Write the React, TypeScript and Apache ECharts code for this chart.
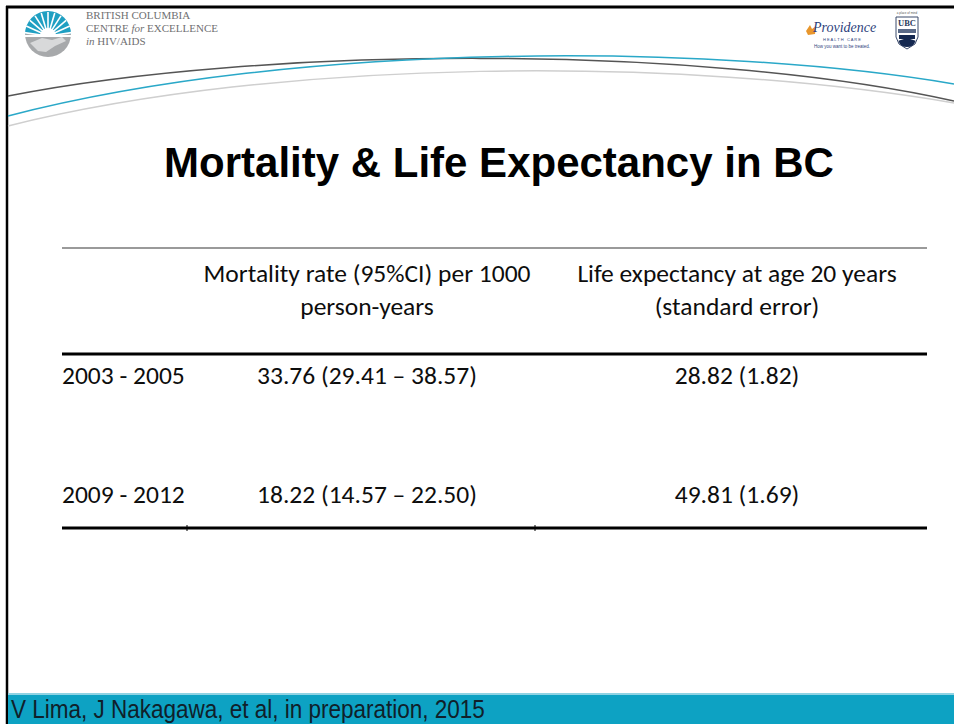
import React, { useEffect, useRef } from "react";
import * as echarts from "echarts";

// ---- content ----
const slideTitle = "Mortality & Life Expectancy in BC";
const headerMortality = ["Mortality rate (95%CI) per 1000", "person-years"];
const headerLife = ["Life expectancy at age 20 years", "(standard error)"];
const periods = ["2003 - 2005", "2009 - 2012"];
const mortalityRates = ["33.76 (29.41 – 38.57)", "18.22 (14.57 – 22.50)"];
const lifeExpectancy = ["28.82 (1.82)", "49.81 (1.69)"];
const citation = "V Lima, J Nakagawa, et al, in preparation, 2015";

const W = 954;
const H = 724;
const TABLE_FONT = "Carlito, Lato, 'Open Sans', sans-serif";
const TITLE_FONT = "'Liberation Sans', Arial, sans-serif";
const TABLE_SIZE = 25.5;

function buildGraphic(): any[] {
  const g: any[] = [];

  // slide frame
  g.push({ type: "rect", shape: { x: 0, y: 0, width: W, height: H }, style: { fill: "#ffffff" }, silent: true });
  g.push({ type: "line", shape: { x1: 6, y1: 7, x2: W, y2: 7 }, style: { stroke: "#000", lineWidth: 3 } });
  g.push({ type: "line", shape: { x1: 7, y1: 6, x2: 7, y2: H }, style: { stroke: "#000", lineWidth: 2.5 } });

  // header swoosh curves
  g.push({
    type: "bezierCurve",
    shape: { x1: 8, y1: 96, cpx1: 260, cpy1: 46, cpx2: 700, cpy2: 44, x2: W, y2: 101 },
    style: { stroke: "#555", lineWidth: 1.5, fill: null },
  });
  g.push({
    type: "bezierCurve",
    shape: { x1: 8, y1: 116, cpx1: 300, cpy1: 40, cpx2: 720, cpy2: 44, x2: W, y2: 84 },
    style: { stroke: "#2aa8c8", lineWidth: 1.5, fill: null },
  });
  g.push({
    type: "bezierCurve",
    shape: { x1: 8, y1: 126, cpx1: 280, cpy1: 58, cpx2: 680, cpy2: 56, x2: W, y2: 103 },
    style: { stroke: "#cfcfcf", lineWidth: 1.5, fill: null },
  });

  // BC Centre logo
  const cx = 48, cy = 34, r = 23;
  g.push({ type: "sector", shape: { cx, cy, r, r0: 0, startAngle: Math.PI, endAngle: Math.PI * 2 }, style: { fill: "#1f9fc2" } });
  g.push({ type: "sector", shape: { cx, cy, r, r0: 0, startAngle: 0, endAngle: Math.PI }, style: { fill: "#a7a9ab" } });
  for (let i = 0; i < 11; i++) {
    const a = Math.PI + (Math.PI * (i + 0.5)) / 11;
    g.push({
      type: "line",
      shape: { x1: cx + Math.cos(a) * 7, y1: cy + 2 + Math.sin(a) * 7, x2: cx + Math.cos(a) * (r + 1), y2: cy + 2 + Math.sin(a) * (r + 1) },
      style: { stroke: "#ffffff", lineWidth: 1.6 },
    });
  }
  g.push({ type: "sector", shape: { cx, cy: cy + 2, r: 8, r0: 0, startAngle: Math.PI, endAngle: Math.PI * 2 }, style: { fill: "#ffffff" } });
  g.push({ type: "line", shape: { x1: cx - r, y1: cy + 2, x2: cx + r, y2: cy + 2 }, style: { stroke: "#ffffff", lineWidth: 2 } });
  g.push({
    type: "polygon",
    shape: { points: [[30, 43], [42, 38], [52, 40], [62, 37], [66, 41], [55, 46], [46, 52], [38, 51]] },
    style: { fill: "#d8d9da" },
  });

  const orgFont = "'Liberation Serif', 'DejaVu Serif', serif";
  const orgColor = "#6f7072";
  const orgSize = 11;
  g.push({ type: "text", x: 86, y: 15, style: { text: "BRITISH COLUMBIA", font: `${orgSize}px ${orgFont}`, fill: orgColor, verticalAlign: "middle" } });
  g.push({
    type: "text", x: 86, y: 28,
    style: {
      text: "{n|CENTRE }{i|for}{n| EXCELLENCE}", verticalAlign: "middle", fill: orgColor,
      rich: {
        n: { fontFamily: orgFont, fontSize: orgSize, fill: orgColor },
        i: { fontFamily: orgFont, fontSize: orgSize, fontStyle: "italic", fill: orgColor },
      },
    },
  });
  g.push({
    type: "text", x: 86, y: 41,
    style: {
      text: "{i|in }{n|HIV/AIDS}", verticalAlign: "middle", fill: orgColor,
      rich: {
        n: { fontFamily: orgFont, fontSize: orgSize, fill: orgColor },
        i: { fontFamily: orgFont, fontSize: orgSize, fontStyle: "italic", fill: orgColor },
      },
    },
  });

  // Providence logo
  g.push({ type: "polygon", shape: { points: [[806, 31], [810, 25], [812, 29], [816, 26], [815, 34], [808, 35]] }, style: { fill: "#e8962c" } });
  g.push({ type: "text", x: 813, y: 27, style: { text: "Providence", font: `italic 14px ${orgFont}`, fill: "#2e3f7c", verticalAlign: "middle" } });
  g.push({ type: "text", x: 842, y: 39, style: { text: "H E A L T H   C A R E", font: `4px ${TITLE_FONT}`, fill: "#2e3f7c", align: "center", verticalAlign: "middle" } });
  g.push({ type: "text", x: 842, y: 46, style: { text: "How you want to be treated.", font: `4.5px ${TITLE_FONT}`, fill: "#2e3f7c", align: "center", verticalAlign: "middle" } });

  // UBC crest
  g.push({ type: "text", x: 907, y: 13, style: { text: "a place of mind", font: `3px ${TITLE_FONT}`, fill: "#555", align: "center", verticalAlign: "middle" } });
  g.push({
    type: "polygon",
    shape: { points: [[896, 17], [918, 17], [918, 37], [915, 44], [907, 49], [899, 44], [896, 37]] },
    style: { fill: "#ffffff", stroke: "#3b4a6b", lineWidth: 1 },
  });
  g.push({ type: "text", x: 907, y: 23, style: { text: "UBC", font: `bold 8.5px ${orgFont}`, fill: "#2b3a5c", align: "center", verticalAlign: "middle" } });
  g.push({ type: "rect", shape: { x: 898, y: 29, width: 18, height: 4 }, style: { fill: "#5a6a88" } });
  g.push({ type: "sector", shape: { cx: 907, cy: 38, r: 9, r0: 0, startAngle: 0.3, endAngle: Math.PI - 0.3 }, style: { fill: "#142850" } });
  g.push({ type: "rect", shape: { x: 899, y: 35, width: 16, height: 4 }, style: { fill: "#142850" } });

  // title
  g.push({
    type: "text", x: 499, y: 162,
    style: { text: slideTitle, font: `bold 42px ${TITLE_FONT}`, fill: "#000", align: "center", verticalAlign: "middle" },
  });

  // table
  const left = 62, right = 927;
  const col2 = 367, col3 = 737;
  const tfont = `${TABLE_SIZE}px ${TABLE_FONT}`;
  const tcolor = "#0d0d0d";
  g.push({ type: "line", shape: { x1: left, y1: 248, x2: right, y2: 248 }, style: { stroke: "#9a9a9a", lineWidth: 2 } });
  const hdrY = [273, 306];
  headerMortality.forEach((t, i) => {
    g.push({ type: "text", x: col2, y: hdrY[i], style: { text: t, font: tfont, fill: tcolor, align: "center", verticalAlign: "middle" } });
  });
  headerLife.forEach((t, i) => {
    g.push({ type: "text", x: col3, y: hdrY[i], style: { text: t, font: tfont, fill: tcolor, align: "center", verticalAlign: "middle" } });
  });
  g.push({ type: "line", shape: { x1: left, y1: 354, x2: right, y2: 354 }, style: { stroke: "#000", lineWidth: 3 } });

  const rowY = [375, 494];
  periods.forEach((p, i) => {
    g.push({ type: "text", x: left, y: rowY[i], style: { text: p, font: tfont, fill: tcolor, verticalAlign: "middle" } });
    g.push({ type: "text", x: col2, y: rowY[i], style: { text: mortalityRates[i], font: tfont, fill: tcolor, align: "center", verticalAlign: "middle" } });
    g.push({ type: "text", x: col3, y: rowY[i], style: { text: lifeExpectancy[i], font: tfont, fill: tcolor, align: "center", verticalAlign: "middle" } });
  });
  g.push({ type: "line", shape: { x1: left, y1: 528, x2: right, y2: 528 }, style: { stroke: "#000", lineWidth: 3 } });
  [187, 535].forEach((x) => {
    g.push({ type: "line", shape: { x1: x, y1: 525, x2: x, y2: 531 }, style: { stroke: "#000", lineWidth: 1 } });
  });

  // footer bar
  g.push({ type: "rect", shape: { x: 8, y: 693, width: W - 8, height: 2 }, style: { fill: "#8fd3e3" } });
  g.push({ type: "rect", shape: { x: 8, y: 695, width: W - 8, height: H - 695 }, style: { fill: "#0da2c3" } });
  g.push({
    type: "text", x: 10, y: 709, scaleX: 0.9, originX: 10, originY: 709,
    style: { text: citation, font: `25px 'Liberation Sans Narrow', 'Liberation Sans', Arial, sans-serif`, fill: "#10202a", verticalAlign: "middle" },
  });

  return g;
}

export default function App() {
  const ref = useRef<HTMLDivElement>(null);
  useEffect(() => {
    document.body.style.margin = "0";
    if (!ref.current) return;
    const chart = echarts.init(ref.current, null, { renderer: "svg" });
    chart.setOption({
      animation: false,
      backgroundColor: "#ffffff",
      graphic: { elements: buildGraphic() },
    });
    return () => chart.dispose();
  }, []);
  return <div ref={ref} style={{ position: "absolute", left: 0, top: 0, width: W, height: H }} />;
}
